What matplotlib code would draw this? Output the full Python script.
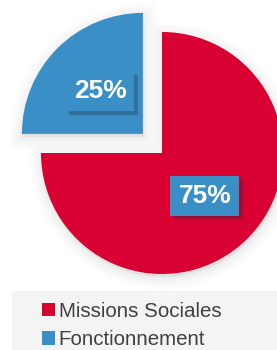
import matplotlib
matplotlib.use('Agg')
import matplotlib.pyplot as plt
from matplotlib.patches import Wedge, Rectangle
from matplotlib import patheffects as pe

plt.rcParams['font.family'] = ['Liberation Sans', 'DejaVu Sans']

# données
labels = ['Fonctionnement', 'Missions Sociales']
values = [25, 75]
colors = ['#3a8fc6', '#d90032']

W, H = 277, 350
fig = plt.figure(figsize=(W / 100, H / 100), dpi=100)
ax = fig.add_axes([0, 0, 1, 1])

R = 121
# explode en unités de données (pixels ici)
wedges, texts, autotexts = ax.pie(values, colors=colors, startangle=90, radius=R,
                                  center=(162, 197), explode=[27, 0],
                                  autopct='%d%%', pctdistance=0.5,
                                  wedgeprops={'linewidth': 0})

# ombre floue autour des parts
for w in wedges:
    cx, cy = w.center
    for lw, a in [(18, 0.025), (13, 0.03), (8, 0.04), (4, 0.05)]:
        sh = Wedge((cx + 1, cy - 3), w.r, w.theta1, w.theta2, facecolor='#999999',
                   edgecolor='#999999', linewidth=lw, alpha=a, zorder=0.5)
        ax.add_patch(sh)

# étiquettes en boîte bleue
for t in autotexts:
    t.set_color('white')
    t.set_fontsize(19)
    t.set_fontweight('bold')
    t.set_bbox(dict(facecolor='#3a8fc6', edgecolor='none', boxstyle='square,pad=0.3'))
    t.get_bbox_patch().set_path_effects([
        pe.SimplePatchShadow(offset=(2.5, -2.5), shadow_rgbFace='#1a2a3a', alpha=0.3),
        pe.Normal()])
    t.set_zorder(5)

# fond de la légende
ax.add_patch(Rectangle((12, 0), W - 12, 59, facecolor='#f4f4f4', edgecolor='none', zorder=0.2))

leg = ax.legend([wedges[1], wedges[0]], [labels[1], labels[0]],
                loc='upper left', bbox_to_anchor=(42 / W, 48 / H), frameon=False,
                fontsize=14.8, handlelength=0.62, handleheight=0.62, handletextpad=0.2,
                labelspacing=0.45, borderpad=0, borderaxespad=0)
for txt in leg.get_texts():
    txt.set_color('#404040')

ax.set_xlim(0, W)
ax.set_ylim(0, H)
ax.set_aspect('equal')
ax.axis('off')

fig.savefig('out.png', dpi=100)
